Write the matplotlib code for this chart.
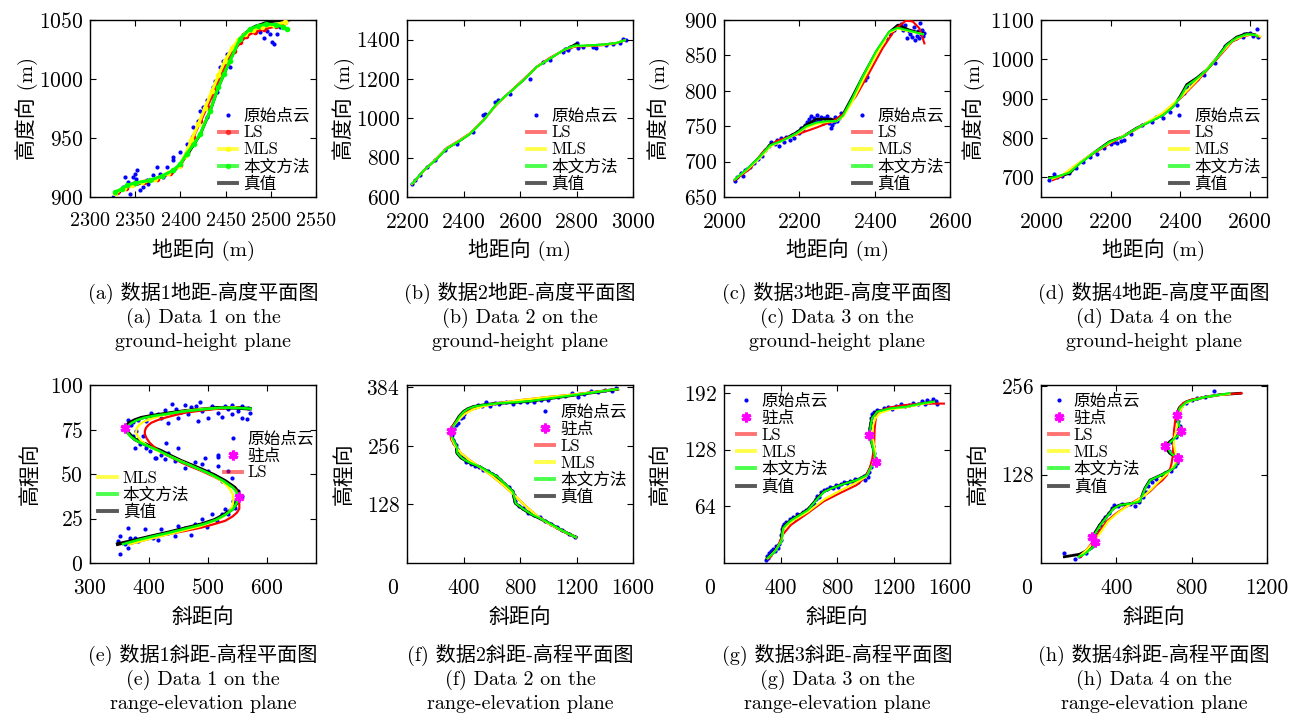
import matplotlib
matplotlib.use('Agg')
import matplotlib.pyplot as plt
from matplotlib.lines import Line2D

plt.rcParams['font.family'] = ['cmr10', 'Noto Sans CJK SC']
plt.rcParams['axes.unicode_minus'] = False
plt.rcParams['axes.formatter.use_mathtext'] = True

# ---------------- data: (a) Data 1 ground-height ----------------
a_pts_x = [2325.8, 2331, 2337, 2342, 2339, 2348, 2352, 2350, 2344, 2355, 2359, 2364.5, 2370, 2377.4, 2385,
           2381, 2392, 2399.6, 2407, 2414, 2420, 2425, 2429, 2436, 2438, 2444, 2447.5, 2451, 2458.6, 2466,
           2473, 2480.7, 2488, 2492, 2499, 2501, 2503, 2506.5, 2495.4, 2510, 2514, 2484, 2429, 2422, 2440,
           2432.6, 2455, 2392, 2374, 2363, 2346, 2350.9]
a_pts_y = [900, 904, 908.5, 912.7, 917, 917, 922.5, 919.7, 902.8, 905.6, 908.5, 911.3, 918.3, 919.7, 925.4,
           917, 931, 938, 945, 959, 964.8, 976, 981.8, 993, 998.7, 1010, 1015.6, 1021, 1027, 1032.5,
           1038, 1041, 1039.6, 1035, 1038, 1031, 1029.7, 1038, 1041, 1043.8, 1046.6, 1045, 967.7, 973.3, 989,
           984.6, 1010, 933.8, 925.4, 914, 909.9, 915.5]
a_blk_x = [2330, 2341, 2366, 2392, 2407, 2422, 2433, 2442, 2455, 2466, 2470, 2481, 2495, 2514, 2520]
a_blk_y = [903, 909, 913, 921, 935, 953, 973, 993, 1016, 1034, 1038, 1044, 1048, 1050, 1050]
a_red_x = [2330, 2340, 2348, 2360, 2374, 2388, 2400, 2407, 2414, 2422, 2429, 2437, 2444, 2451, 2459, 2466,
           2473, 2482, 2492, 2506, 2516]
a_red_y = [904, 908, 911, 913, 915.5, 920, 927, 937, 951, 964, 976, 989, 1001.5, 1013, 1024, 1031,
           1036.7, 1040, 1042.4, 1045, 1048]
a_yel_x = [2328, 2338, 2346, 2358, 2372, 2386, 2398, 2405, 2412, 2420, 2427, 2435, 2442, 2449, 2457, 2464,
           2471, 2480, 2490, 2504, 2516]
a_yel_y = [903.5, 907.5, 910.5, 912.5, 915, 920, 926, 935, 948, 962, 975, 990, 1003, 1015, 1026, 1033,
           1038, 1041.5, 1044, 1046, 1048]
a_grn_x = [2328, 2335, 2341, 2350, 2366, 2380, 2392, 2400, 2407, 2415, 2422, 2433, 2442, 2448, 2455, 2466,
           2477, 2486, 2495, 2506, 2514, 2518]
a_grn_y = [904, 907, 910, 912, 914, 918, 922.5, 928, 936.6, 945, 953.6, 973.3, 993, 1004, 1015.6, 1034,
           1042.4, 1045, 1046.6, 1046, 1044, 1042]

# ---------------- (b) Data 2 ground-height ----------------
b_pts_x = [2217.6, 2229.4, 2247, 2270.6, 2300, 2335, 2376.5, 2435, 2470.6, 2476.5, 2511.8, 2523.5, 2564.7,
           2635.3, 2682.4, 2705.9, 2753, 2758.8, 2770.6, 2776.5, 2794, 2800, 2805.9, 2823.5, 2858.8, 2870.6,
           2905.9, 2929.4, 2953, 2964.7, 2976.5]
b_pts_y = [664.4, 684.7, 710, 752.5, 786.4, 837.3, 871.2, 930.5, 1015.3, 1023.7, 1083, 1091.5, 1125.4,
           1201.7, 1286.4, 1295, 1337.3, 1354.2, 1345.8, 1362.7, 1371, 1383, 1359.3, 1362.7, 1362.7, 1357.6,
           1371.2, 1376.3, 1383, 1405, 1400]
b_x = [2218, 2259, 2300, 2341, 2382, 2424, 2471, 2518, 2565, 2612, 2659, 2706, 2753, 2777, 2800, 2812,
       2847, 2894, 2941, 2971]
b_blk_y = [665, 735, 786, 846, 880, 922, 990, 1075, 1134, 1193, 1261, 1303, 1346, 1363, 1380, 1366, 1371,
           1375, 1383, 1397]
b_red_y = [665, 733, 790, 850, 885, 925, 992, 1070, 1135, 1198, 1262, 1308, 1345, 1358, 1366, 1366, 1368,
           1372, 1382, 1396]
b_yel_y = [666, 734, 788, 848, 883, 924, 991, 1072, 1134, 1195, 1261, 1305, 1346, 1360, 1368, 1368, 1370,
           1374, 1383, 1397]
b_grn_y = [667, 735, 787, 847, 881, 922, 990, 1074, 1134, 1194, 1261, 1304, 1346, 1362, 1372, 1369, 1371,
           1375, 1383, 1397]

# ---------------- (c) Data 3 ground-height ----------------
c_pts_x = [2028, 2035, 2045, 2050, 2055, 2062, 2070, 2080, 2090, 2100, 2110, 2120, 2125, 2135, 2140, 2145,
           2150, 2160, 2165, 2175, 2180, 2185, 2195, 2200, 2205, 2210, 2215, 2220, 2225, 2228, 2232, 2236,
           2240, 2244, 2248, 2250, 2254, 2258, 2262, 2266, 2270, 2274, 2278, 2282, 2285, 2288, 2292, 2296,
           2300, 2305, 2310, 2375, 2380, 2430, 2440, 2450, 2460, 2465, 2470, 2475, 2480, 2485, 2490, 2495,
           2500, 2505, 2508, 2512, 2515, 2518, 2520, 2522, 2525, 2528, 2530]
c_pts_y = [672, 678, 684, 680, 688, 690, 693, 698, 703, 708, 716, 722, 727, 725, 730, 722,
           733, 728, 735, 730, 738, 734, 742, 740, 748, 745, 752, 756, 760, 754, 764, 758,
           762, 756, 766, 760, 758, 763, 755, 762, 757, 764, 754, 760, 748, 752, 756, 763,
           758, 762, 768, 815, 820, 875, 880, 886, 892, 890, 894, 886, 893, 875, 885, 880,
           876, 890, 872, 878, 884, 875, 896, 880, 886, 878, 882]
c_x = [2029, 2060, 2095, 2122, 2157, 2192, 2219, 2245, 2272, 2298, 2316, 2342, 2369, 2404, 2439, 2462,
       2475, 2492, 2519, 2528]
c_blk_y = [674, 688, 707, 724, 731, 741, 752, 760, 760, 759, 767, 793, 821, 855, 883, 893, 890, 886, 882, 881]
c_grn_y = [675, 689, 707, 723, 730, 740, 750, 755, 757, 757, 765, 791, 821, 856, 884, 889, 887, 885, 881, 880]
c_yel_y = [675, 688, 705, 721, 730, 739, 748, 753, 756, 757, 763, 786, 815, 851, 882, 888, 886, 884, 881, 880]
c_red_x = [2029, 2069, 2104, 2139, 2192, 2245, 2289, 2316, 2351, 2386, 2421, 2456, 2483, 2501, 2519, 2532]
c_red_y = [674, 690, 714, 729, 738, 748, 757, 767, 793, 826, 860, 888, 899, 898, 888, 867]

# ---------------- (d) Data 4 ground-height ----------------
d_pts_x = [2024, 2038, 2045, 2060, 2080, 2100, 2120, 2140, 2160, 2180, 2200, 2210, 2220, 2230, 2240, 2260,
           2290, 2320, 2330, 2345, 2350, 2370, 2390, 2410, 2420, 2430, 2440, 2450, 2470, 2500, 2530, 2560,
           2580, 2585, 2600, 2610, 2620, 2625]
d_pts_y = [693, 708, 700, 703, 712, 725, 740, 752, 760, 775, 786, 790, 788, 792, 795, 810,
           832, 840, 853, 858, 852, 866, 885, 915, 930, 938, 945, 950, 960, 990, 1035, 1055,
           1058, 1065, 1066, 1060, 1078, 1058]
d_blk_x = [2024, 2043, 2082, 2111, 2149, 2197, 2236, 2274, 2313, 2351, 2380, 2400, 2419, 2448, 2477, 2506,
           2534, 2563, 2592, 2616, 2623]
d_blk_y = [700, 700, 710, 736, 761, 791, 804, 825, 842, 859, 880, 906, 936, 953, 974, 1004, 1038, 1057,
           1066, 1063, 1059]
d_grn_y = [698, 701, 712, 735, 760, 790, 803, 824, 841, 858, 879, 903, 932, 951, 973, 1003, 1036, 1055,
           1064, 1062, 1058]
d_fit_x = [2034, 2060, 2100, 2150, 2200, 2250, 2300, 2350, 2400, 2450, 2500, 2550, 2580, 2600, 2620, 2630]
d_red_y = [693, 703, 730, 760, 787, 810, 836, 862, 900, 945, 995, 1045, 1058, 1062, 1061, 1057]
d_yel_y = [697, 705, 731, 762, 789, 811, 837, 864, 902, 948, 998, 1047, 1059, 1063, 1062, 1058]

# ---------------- (e) Data 1 range-elevation ----------------
e_pts_x = [486, 480, 460.7, 446.5, 439, 426.7, 415, 404, 395.5, 381.3, 372.8, 370, 364.3, 389.8, 384.2,
           395.5, 409.7, 421, 429.5, 432.4, 443.7, 460.7, 477.7, 489, 500.4, 517.4, 517.4, 523, 540, 551.4,
           542.9, 528.7, 523, 506, 489, 477.7, 460.7, 449.3, 432.4, 421, 406.8, 392.7, 375.6, 364.3, 367.1,
           350.1, 358.6, 350.1, 364.3, 347.3, 381.3, 415.3, 443.7, 472, 497.6, 514.6, 534.4, 545.8, 557,
           534.4, 517.4, 494.7, 449.3, 426.7, 412.5, 401.2, 392.7, 381.3, 375.6, 378.5, 372.8, 506, 517.4,
           528.7, 540, 557, 568.4, 565.6, 557, 540, 523, 500.4, 483.4, 466.4, 449.3, 432.4, 421, 489, 534.4,
           551.4, 571.3, 472, 455]
e_pts_y = [90.6, 88.2, 88.7, 86.3, 89.1, 85.7, 83.9, 84.4, 79.8, 80.1, 79.4, 77.5, 80.1, 71.3, 66.7,
           64.8, 59.2, 60.7, 67.6, 62, 57.3, 53.6, 56.9, 55.4, 51.7, 54.5, 59.6, 46.1, 48, 40.5,
           34.9, 30.2, 27.4, 27.4, 24.6, 21.8, 19.9, 20.9, 17.1, 19, 14.3, 19, 14.3, 19.9, 14.3,
           15.2, 10.6, 5.3, 8.7, 12.4, 12.4, 12.8, 15.2, 15.8, 20, 23.7, 27.4, 31.1, 37.7,
           51.7, 60.7, 59.2, 64.8, 58.3, 58.8, 62.9, 66.7, 69.5, 64.8, 74.1, 71.3, 88.2, 84.4,
           88.2, 88.7, 88.2, 87.2, 80.7, 81.6, 83.5, 82, 81.6, 79.8, 83.5, 81.6, 78.8, 81.6, 85.4, 86.3,
           85.4, 84.4, 87.6, 85]
e_lvl_y = [10.6, 12.8, 15, 17.1, 19.5, 21.8, 24.2, 27.4, 30.5, 34, 36.7, 40, 42.4, 46.1, 49.5, 52.6, 55,
           57.3, 60, 62.9, 65.3, 67.6, 69.5, 71.3, 73.5, 75.6, 77.3, 78.8, 80.3, 81.6, 82.6, 83.5, 84.5,
           85.4, 86.3, 87.2, 87.2, 86.7]
e_blk_x = [347, 376, 404, 432, 461, 489, 511, 529, 542, 549, 553, 551, 545, 529, 510, 489, 472, 455, 438,
           421, 404, 387, 376, 370, 364, 360, 362, 367, 376, 387, 403, 421, 441, 461, 489, 517, 545, 571]
e_grn_x = [356, 380, 407, 435, 464, 492, 513, 531, 543, 549, 550, 548, 542, 526, 507, 486, 469, 452, 435,
           418, 401, 385, 375, 368, 363, 362, 365, 371, 380, 392, 407, 425, 444, 465, 492, 520, 547, 572]
e_red_x = [367, 400, 432, 461, 489, 510, 529, 541, 549, 553, 553, 551, 549, 540, 529, 510, 489, 472, 455,
           438, 421, 410, 401, 396, 393, 393, 395, 399, 404, 414, 427, 443, 461, 483, 506, 530, 551]
e_red_y = [10.6, 13.5, 16.2, 18, 19.9, 21.8, 23.7, 26, 28.3, 30.5, 33, 36.7, 40.5, 43, 45.2, 48.5, 51.7,
           54, 56.4, 59.3, 62, 64.8, 67.6, 70, 72.3, 74.2, 76, 77.5, 78.8, 80.2, 81.6, 83, 84.4, 85.4,
           86.3, 87, 87.6]
e_yel_x = [367, 395, 425, 455, 485, 506, 523, 535, 541, 543, 542, 538, 532, 519, 503, 483, 466, 449, 432,
           415, 398, 387, 381, 378, 379, 383, 390, 400, 413, 428, 446, 467, 493, 520, 546]
e_yel_y = [10.6, 13, 15.5, 18, 20.5, 23, 25.5, 28.5, 31.5, 35, 38.5, 41, 43.5, 47, 50, 53, 55.5, 58, 60.5,
           63, 65.8, 68.5, 71, 73, 75.5, 77.5, 79.2, 80.6, 82, 83.4, 84.6, 85.7, 86.6, 87.1, 87.4]
e_stat_x = [359, 553]
e_stat_y = [76, 37]

# ---------------- (f) Data 2 range-elevation ----------------
f_pts_x = [1480, 1450, 1400, 1350, 1300, 1250, 1210, 1170, 1120, 1070, 1000, 950, 900, 850, 800, 750, 700,
           650, 620, 590, 560, 530, 500, 480, 460, 440, 420, 405, 395, 380, 360, 350, 335, 322, 318, 325,
           335, 345, 352, 360, 380, 400, 420, 450, 480, 510, 540, 570, 600, 630, 660, 690, 720, 740, 760,
           765, 790, 820, 860, 900, 940, 980, 1020, 1060, 1100, 1150, 1190]
f_pts_y = [381, 376, 378, 372, 375, 369, 362, 370, 365, 362, 356, 355, 352, 350, 352, 347, 350,
           346, 349, 343, 350, 342, 345, 340, 338, 336, 332, 325, 318, 315, 305, 300, 292, 285, 278, 268,
           262, 258, 248, 240, 232, 228, 220, 216, 212, 210, 202, 200, 194, 190, 180, 172, 165, 158, 148,
           135, 124, 119, 110, 105, 100, 92, 86, 78, 72, 64, 57]
f_blk_x = [1491, 1350, 1207, 1040, 875, 750, 638, 555, 472, 430, 400, 370, 346, 325, 312, 316, 332, 350,
           353, 375, 400, 440, 472, 519, 580, 638, 700, 750, 758, 768, 820, 875, 935, 993, 1090, 1195]
f_grn_x = [1491, 1350, 1207, 1040, 875, 750, 638, 555, 475, 433, 403, 373, 349, 328, 315, 318, 334, 352,
           356, 378, 402, 442, 474, 521, 582, 640, 702, 752, 760, 770, 822, 877, 937, 995, 1092, 1195]
f_lvl_y = [379, 373, 367, 360, 353, 350, 348, 345, 341, 336, 330, 320, 308, 298, 287, 275, 265, 254, 240,
           232, 226, 219, 215, 209, 198, 188, 170, 155, 142, 130, 118, 107, 98, 89, 72, 56]
f_red_x = [1491, 1200, 1000, 800, 640, 540, 460, 400, 350, 318, 305, 312, 340, 380, 440, 520, 600, 680,
           760, 840, 920, 1000, 1100, 1195]
f_yel_x = [1491, 1200, 1000, 800, 640, 545, 470, 410, 360, 326, 312, 318, 342, 380, 440, 520, 600, 680,
           760, 840, 920, 1000, 1100, 1195]
f_fit_y = [379, 368, 362, 355, 348, 342, 335, 325, 310, 297, 285, 270, 255, 240, 225, 208, 190, 170, 148,
           124, 103, 86, 70, 56]
f_stat_x = [311]
f_stat_y = [287]

# ---------------- (g) Data 3 range-elevation ----------------
g_pts_x = [300, 305, 312, 318, 325, 330, 340, 350, 360, 370, 380, 390, 400, 405, 410, 415, 425, 440, 455,
           470, 490, 505, 520, 540, 560, 580, 600, 620, 640, 650, 660, 675, 690, 710, 730, 750, 770, 790,
           810, 830, 850, 870, 890, 910, 930, 950, 970, 990, 1000, 1010, 1020, 1030, 1040, 1050, 1060, 1062,
           1055, 1048, 1040, 1035, 1038, 1042, 1050, 1065, 1080, 1100, 1130, 1160, 1190, 1220, 1250, 1280,
           1310, 1340, 1370, 1400, 1420, 1440, 1460, 1480, 1500, 1510]
g_pts_y = [3, 8, 6, 11, 9, 14, 12, 16, 14, 19, 17, 22, 26, 32, 38, 42, 44, 46, 45,
           50, 52, 50, 55, 54, 58, 60, 62, 64, 67, 72, 76, 74, 80, 82, 83, 86, 85, 88,
           86, 89, 92, 90, 93, 91, 95, 92, 96, 98, 94, 100, 97, 103, 108, 113, 118, 124,
           132, 140, 146, 152, 158, 164, 168, 171, 173, 172, 175, 176, 174, 177, 179, 177,
           178, 181, 180, 183, 179, 184, 182, 185, 183, 180]
g_blk_x = [305, 356, 403, 414, 440, 473, 530, 589, 659, 706, 760, 822, 880, 939, 1009, 1044, 1079, 1066,
           1055, 1040, 1027, 1035, 1044, 1079, 1172, 1288, 1405, 1487]
g_grn_x = [308, 360, 406, 418, 445, 478, 535, 594, 664, 710, 765, 826, 884, 942, 1014, 1050, 1076, 1066,
           1055, 1042, 1032, 1038, 1048, 1085, 1178, 1290, 1405, 1487]
g_lvl_y = [5.3, 12.9, 24.1, 39.2, 44, 48.5, 54, 59.8, 73, 80.5, 84.5, 88, 91, 93.7, 99.3, 110.6, 114.4,
           122, 129.5, 138, 145.3, 155, 163.3, 170.9, 174.6, 176.5, 180.3, 182.2]
g_red_x = [321, 380, 414, 473, 590, 706, 822, 939, 1000, 1032, 1050, 1062, 1067, 1072, 1079, 1110, 1172,
           1290, 1405, 1557]
g_red_y = [5.3, 18, 31.6, 42.9, 56, 69.6, 79, 88, 97, 106.9, 118, 130, 152, 160, 167, 172, 175.7, 178.5,
           180, 180]
g_yel_x = [310, 365, 410, 420, 480, 595, 710, 825, 940, 1010, 1048, 1068, 1070, 1060, 1050, 1055, 1070,
           1100, 1180, 1290, 1405, 1487]
g_yel_y = [5.3, 14, 26, 38, 47, 58, 72, 82, 91, 98, 110, 118, 125, 135, 145, 155, 163, 169, 173.5, 176,
           179.5, 182]
g_stat_x = [1027, 1079]
g_stat_y = [145, 114]

# ---------------- (h) Data 4 range-elevation ----------------
h_pts_x = [120, 180, 200, 240, 270, 290, 280, 285, 300, 315, 330, 340, 360, 375, 390, 410, 430, 450, 470,
           500, 520, 540, 555, 570, 590, 610, 640, 660, 690, 710, 722, 720, 700, 680, 665, 690, 715, 735,
           740, 728, 725, 735, 745, 770, 800, 830, 870, 920]
h_pts_y = [14, 6, 10, 15, 24, 29, 36, 42, 48, 55, 62, 66, 72, 80, 84, 83, 86, 84, 85,
           82, 88, 95, 103, 112, 117, 122, 128, 131, 134, 140, 145, 156, 160, 163, 172, 175, 182, 188,
           198, 206, 214, 222, 228, 232, 236, 239, 241, 250]
h_lvl_y = [9, 12.6, 21, 26, 31, 34, 37, 43, 55, 67, 79, 84, 86, 89, 108, 120, 129, 137, 144.5, 152, 155,
           159, 169, 176, 186, 192, 197, 202, 215, 225, 234, 240, 244, 246]
h_blk_x = [124, 204, 267, 284, 286, 279, 272, 284, 311, 347, 382, 418, 471, 524, 551, 578, 649, 702, 720,
           725, 705, 684, 658, 684, 729, 741, 735, 729, 720, 734, 773, 862, 951, 1058]
h_grn_x = [200, 230, 267, 286, 288, 281, 276, 288, 315, 350, 385, 420, 472, 525, 553, 580, 650, 703, 722,
           728, 710, 690, 668, 690, 732, 745, 738, 730, 724, 738, 775, 862, 951, 1000]
h_red_x = [213, 245, 275, 310, 347, 400, 453, 500, 542, 580, 613, 645, 667, 685, 693, 700, 702, 704, 706,
           712, 720, 735, 755, 800, 862, 930, 1004, 1066]
h_red_y = [9, 20, 31, 46, 60, 72, 82, 90, 96.5, 104, 113, 120, 127, 136, 144, 156, 168, 180, 192, 205,
           216, 225, 232, 237, 240, 243, 245, 246]
h_yel_x = [200, 240, 278, 318, 355, 405, 455, 505, 550, 590, 625, 660, 690, 712, 718, 712, 705, 708, 718,
           728, 732, 745, 765, 805, 862, 930, 1000]
h_yel_y = [9, 18, 30, 45, 60, 72, 82, 90, 98, 108, 118, 127, 135, 143, 152, 162, 172, 182, 192, 203, 214,
           224, 231, 236, 240, 243, 245]
h_stat_x = [286, 272, 725, 658, 741, 720]
h_stat_y = [31, 37, 152, 169, 192, 215]

# ---------------- text ----------------
cap_top = [("(a) 数据1地距-高度平面图", "(a) Data 1 on the", "ground-height plane"),
           ("(b) 数据2地距-高度平面图", "(b) Data 2 on the", "ground-height plane"),
           ("(c) 数据3地距-高度平面图", "(c) Data 3 on the", "ground-height plane"),
           ("(d) 数据4地距-高度平面图", "(d) Data 4 on the", "ground-height plane")]
cap_bot = [("(e) 数据1斜距-高程平面图", "(e) Data 1 on the", "range-elevation plane"),
           ("(f) 数据2斜距-高程平面图", "(f) Data 2 on the", "range-elevation plane"),
           ("(g) 数据3斜距-高程平面图", "(g) Data 3 on the", "range-elevation plane"),
           ("(h) 数据4斜距-高程平面图", "(h) Data 4 on the", "range-elevation plane")]
lbl_pts, lbl_stat, lbl_ls, lbl_mls, lbl_ours, lbl_true = "原始点云", "驻点", "LS", "MLS", "本文方法", "真值"

# ---------------- figure ----------------
W, H = 1299, 716
fig = plt.figure(figsize=(W / 100, H / 100), dpi=100)
C_R, C_Y, C_G, C_K, C_B, C_M = '#ff0000', '#ffff00', '#00ff00', '#000000', '#0000ff', '#ff00ff'
STAR = (6, 2, 0)
cols = [90, 407, 724, 1041]
AW = 226
XPAD = 11
TICK_FS = 15.5


def add_ax(left, top, h):
    return fig.add_axes([left / W, 1 - (top + h) / H, AW / W, h / H])


def style(ax):
    ax.tick_params(direction='in', top=True, right=True, length=4, width=0.8, labelsize=TICK_FS)
    ax.tick_params(axis='x', pad=XPAD)
    ax.tick_params(axis='y', pad=5)
    for s in ax.spines.values():
        s.set_linewidth(1.0)


def handles(marker_lines, order):
    mk = '.' if marker_lines else None
    hs = {
        'pts': Line2D([], [], ls='none', marker='.', color=C_B, ms=4),
        'stat': Line2D([], [], ls='none', marker=STAR, color=C_M, ms=7, mew=2.2),
        'ls': Line2D([], [], color=C_R, lw=2.8, alpha=0.55, marker=mk, ms=6),
        'mls': Line2D([], [], color=C_Y, lw=2.8, alpha=0.7, marker=mk, ms=6),
        'ours': Line2D([], [], color=C_G, lw=2.8, alpha=0.7, marker=mk, ms=6),
        'true': Line2D([], [], color=C_K, lw=2.8, alpha=0.65),
    }
    names = {'pts': lbl_pts, 'stat': lbl_stat, 'ls': lbl_ls, 'mls': lbl_mls, 'ours': lbl_ours,
             'true': lbl_true}
    return [hs[k] for k in order], [names[k] for k in order]


def legend(ax, order, loc, anchor, marker_lines=False):
    h, l = handles(marker_lines, order)
    return ax.legend(h, l, loc=loc, bbox_to_anchor=anchor, frameon=False, fontsize=12,
                     handlelength=1.1, handletextpad=0.35, labelspacing=0.1, borderpad=0.1,
                     borderaxespad=0.0)


# ---- top row ----
top_specs = [
    dict(xlim=(2300, 2550), ylim=(900, 1050), xt=[2300, 2350, 2400, 2450, 2500, 2550],
         yt=[900, 950, 1000, 1050], ylab_x=-52),
    dict(xlim=(2200, 3000), ylim=(600, 1500), xt=[2200, 2400, 2600, 2800, 3000],
         yt=[600, 800, 1000, 1200, 1400], ylab_x=-52),
    dict(xlim=(2000, 2600), ylim=(650, 900), xt=[2000, 2200, 2400, 2600],
         yt=[650, 700, 750, 800, 850, 900], ylab_x=-54),
    dict(xlim=(2000, 2650), ylim=(650, 1100), xt=[2000, 2200, 2400, 2600],
         yt=[700, 800, 900, 1000, 1100], ylab_x=-56),
]
top_axes = [add_ax(c, 20, 177) for c in cols]

ax = top_axes[0]
ax.plot(a_pts_x, a_pts_y, '.', color=C_B, ms=4, zorder=1)
ax.plot(a_blk_x, a_blk_y, '-', color=C_K, lw=2, zorder=2)
ax.plot(a_red_x, a_red_y, '.-', color=C_R, lw=2.2, ms=6, zorder=3)
ax.plot(a_yel_x, a_yel_y, '.-', color=C_Y, lw=2.2, ms=6, zorder=4)
ax.plot(a_grn_x, a_grn_y, '.-', color=C_G, lw=2.2, ms=6, zorder=5)
legend(ax, ['pts', 'ls', 'mls', 'ours', 'true'], 'lower right', (0.98, 0.02), marker_lines=True)

ax = top_axes[1]
ax.plot(b_pts_x, b_pts_y, '.', color=C_B, ms=4, zorder=1)
ax.plot(b_x, b_blk_y, color=C_K, lw=1.5, zorder=2)
ax.plot(b_x, b_red_y, color=C_R, lw=1.5, zorder=3)
ax.plot(b_x, b_yel_y, color=C_Y, lw=1.5, zorder=4)
ax.plot(b_x, b_grn_y, color=C_G, lw=1.5, zorder=5)
legend(ax, ['pts', 'ls', 'mls', 'ours', 'true'], 'lower right', (0.94, 0.02))

ax = top_axes[2]
ax.plot(c_pts_x, c_pts_y, '.', color=C_B, ms=4, zorder=1)
ax.plot(c_x, c_blk_y, color=C_K, lw=1.8, zorder=2)
ax.plot(c_red_x, c_red_y, color=C_R, lw=1.5, zorder=3)
ax.plot(c_x, c_yel_y, color=C_Y, lw=1.5, zorder=4)
ax.plot(c_x, c_grn_y, color=C_G, lw=1.5, zorder=5)
legend(ax, ['pts', 'ls', 'mls', 'ours', 'true'], 'lower right', (0.98, 0.02))

ax = top_axes[3]
ax.plot(d_pts_x, d_pts_y, '.', color=C_B, ms=4, zorder=1)
ax.plot(d_blk_x, d_blk_y, color=C_K, lw=1.8, zorder=2)
ax.plot(d_fit_x, d_red_y, color=C_R, lw=1.5, zorder=3)
ax.plot(d_fit_x, d_yel_y, color=C_Y, lw=1.5, zorder=4)
ax.plot(d_blk_x, d_grn_y, color=C_G, lw=1.5, zorder=5)
legend(ax, ['pts', 'ls', 'mls', 'ours', 'true'], 'lower right', (0.98, 0.02))

for i, (ax, sp, cap) in enumerate(zip(top_axes, top_specs, cap_top)):
    ax.set_xlim(*sp['xlim'])
    ax.set_ylim(*sp['ylim'])
    ax.set_xticks(sp['xt'])
    ax.set_yticks(sp['yt'])
    style(ax)
    if i == 0:
        ax.tick_params(axis='x', labelsize=14.5)
    ax.set_xlabel("地距向 (m)", fontsize=15)
    ax.set_ylabel("高度向 (m)", fontsize=15)
    ax.xaxis.set_label_coords(0.5, -41 / 177)
    ax.yaxis.set_label_coords(sp['ylab_x'] / AW, 0.5)
    bb = ax.get_position()
    cx = bb.x0 + bb.width / 2
    for text, ypx in zip(cap, [293, 318, 342]):
        fig.text(cx, 1 - ypx / H, text, ha='center', va='center', fontsize=14.5)

# ---- bottom row ----
bot_axes = [add_ax(c, 385, 178) for c in cols]

ax = bot_axes[0]
ax.plot(e_pts_x, e_pts_y, '.', color=C_B, ms=4, zorder=1)
ax.plot(e_blk_x, e_lvl_y, color=C_K, lw=2.6, zorder=2)
ax.plot(e_red_x, e_red_y, color=C_R, lw=1.6, zorder=3)
ax.plot(e_yel_x, e_yel_y, color=C_Y, lw=1.6, zorder=4)
ax.plot(e_grn_x, e_lvl_y, color=C_G, lw=1.8, zorder=5)
ax.plot(e_stat_x, e_stat_y, ls='none', marker=STAR, color=C_M, ms=7, mew=2.2, zorder=6)
lg1 = legend(ax, ['pts', 'stat', 'ls'], 'upper right', (1.0, 0.75))
ax.add_artist(lg1)
legend(ax, ['mls', 'ours', 'true'], 'upper left', (0.03, 0.53))

ax = bot_axes[1]
ax.plot(f_pts_x, f_pts_y, '.', color=C_B, ms=4, zorder=1)
ax.plot(f_blk_x, f_lvl_y, color=C_K, lw=2.2, zorder=2)
ax.plot(f_red_x, f_fit_y, color=C_R, lw=1.5, zorder=3)
ax.plot(f_yel_x, f_fit_y, color=C_Y, lw=1.5, zorder=4)
ax.plot(f_grn_x, f_lvl_y, color=C_G, lw=1.5, zorder=5)
ax.plot(f_stat_x, f_stat_y, ls='none', marker=STAR, color=C_M, ms=7, mew=2.2, zorder=6)
legend(ax, ['pts', 'stat', 'ls', 'mls', 'ours', 'true'], 'upper right', (0.98, 0.90))

ax = bot_axes[2]
ax.plot(g_pts_x, g_pts_y, '.', color=C_B, ms=4, zorder=1)
ax.plot(g_blk_x, g_lvl_y, color=C_K, lw=1.8, zorder=2)
ax.plot(g_red_x, g_red_y, color=C_R, lw=1.5, zorder=3)
ax.plot(g_yel_x, g_yel_y, color=C_Y, lw=1.5, zorder=4)
ax.plot(g_grn_x, g_lvl_y, color=C_G, lw=1.5, zorder=5)
ax.plot(g_stat_x, g_stat_y, ls='none', marker=STAR, color=C_M, ms=7, mew=2.2, zorder=6)
legend(ax, ['pts', 'stat', 'ls', 'mls', 'ours', 'true'], 'upper left', (0.05, 0.96))

ax = bot_axes[3]
ax.plot(h_pts_x, h_pts_y, '.', color=C_B, ms=4, zorder=1)
ax.plot(h_blk_x, h_lvl_y, color=C_K, lw=2.0, zorder=2)
ax.plot(h_red_x, h_red_y, color=C_R, lw=1.5, zorder=3)
ax.plot(h_yel_x, h_yel_y, color=C_Y, lw=1.5, zorder=4)
ax.plot(h_grn_x, h_lvl_y, color=C_G, lw=1.5, zorder=5)
ax.plot(h_stat_x, h_stat_y, ls='none', marker=STAR, color=C_M, ms=7, mew=2.2, zorder=6)
legend(ax, ['pts', 'stat', 'ls', 'mls', 'ours', 'true'], 'upper left', (0.03, 0.96))

bot_specs = [
    dict(xlim=(300, 683), ylim=(0, 100), xt=[300, 400, 500, 600], yt=[0, 25, 50, 75, 100],
         zero=False, ylab_x=-50),
    dict(xlim=(0, 1600), ylim=(0, 388), xt=[0, 400, 800, 1200, 1600], yt=[128, 256, 384],
         zero=True, ylab_x=-53),
    dict(xlim=(0, 1600), ylim=(0, 201), xt=[0, 400, 800, 1200, 1600], yt=[64, 128, 192],
         zero=True, ylab_x=-54),
    dict(xlim=(0, 1200), ylim=(0, 258), xt=[0, 400, 800, 1200], yt=[128, 256],
         zero=True, ylab_x=-53),
]
for ax, sp, cap in zip(bot_axes, bot_specs, cap_bot):
    ax.set_xlim(*sp['xlim'])
    ax.set_ylim(*sp['ylim'])
    ax.set_xticks(sp['xt'])
    ax.set_yticks(sp['yt'])
    if sp['zero']:
        ax.set_xticklabels([''] + [str(v) for v in sp['xt'][1:]])
        ax.annotate('0', xy=(0, 0), xycoords=('data', 'axes fraction'), xytext=(-14, -XPAD * 100 / 72),
                    textcoords='offset pixels', ha='center', va='top', fontsize=TICK_FS,
                    annotation_clip=False)
    style(ax)
    ax.set_xlabel("斜距向", fontsize=15)
    ax.set_ylabel("高程向", fontsize=15)
    ax.xaxis.set_label_coords(0.5, -44 / 178)
    ax.yaxis.set_label_coords(sp['ylab_x'] / AW, 0.5)
    bb = ax.get_position()
    cx = bb.x0 + bb.width / 2
    for text, ypx in zip(cap, [655, 680, 704]):
        fig.text(cx, 1 - ypx / H, text, ha='center', va='center', fontsize=14.5)

fig.savefig('out.png', dpi=100)
